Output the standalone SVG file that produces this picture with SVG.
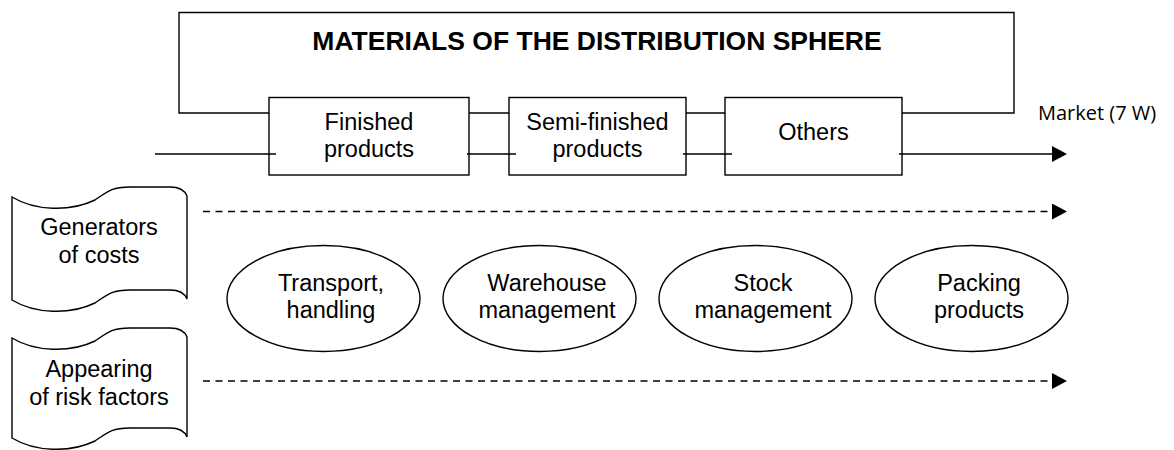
<svg xmlns="http://www.w3.org/2000/svg" width="1174" height="450" viewBox="0 0 1174 450">
<style>
.ln{fill:none;stroke:#000;stroke-width:1.4}
.box{fill:#fff;stroke:#000;stroke-width:1.4}
.dash{fill:none;stroke:#000;stroke-width:1.4;stroke-dasharray:7 5.5}
.t{font-family:"Liberation Sans",Arial,sans-serif;font-size:23.5px;fill:#000;text-anchor:middle}
.title{font-family:"Liberation Sans",Arial,sans-serif;font-size:26.5px;font-weight:bold;fill:#000;text-anchor:middle}
.mk{font-family:"Open Sans","Noto Sans",sans-serif;font-size:20px;fill:#000}
</style>
<defs>
<marker id="arr" viewBox="0 0 15 16" refX="0" refY="8" markerWidth="15" markerHeight="16" markerUnits="userSpaceOnUse" orient="auto">
<path d="M0,0 L15,8 L0,16 z" fill="#000"/>
</marker>
</defs>
<g id="connectors">
<polyline class="ln" points="269,113 179,113 179,12.5 1014,12.5 1014,113 902,113"/>
<line class="ln" x1="469" y1="113" x2="509" y2="113"/>
<line class="ln" x1="686" y1="113" x2="725" y2="113"/>
<line class="ln" x1="155" y1="154" x2="276" y2="154"/>
<line class="ln" x1="467" y1="154" x2="516" y2="154"/>
<line class="ln" x1="683" y1="154" x2="732" y2="154"/>
<line class="ln" x1="899" y1="154" x2="1052" y2="154" marker-end="url(#arr)"/>
<line class="dash" x1="203" y1="211.5" x2="1052" y2="211.5" marker-end="url(#arr)"/>
<line class="dash" x1="203" y1="381" x2="1052" y2="381" marker-end="url(#arr)"/>
</g>
<g id="title">
<text class="title" x="597" y="50">MATERIALS OF THE DISTRIBUTION SPHERE</text>
</g>
<g id="finished">
<rect class="ln" x="269" y="97.5" width="200" height="77.5"/>
<text class="t" x="369" y="130">Finished</text>
<text class="t" x="369" y="156.5">products</text>
</g>
<g id="semi">
<rect class="ln" x="509" y="97.5" width="177" height="77.5"/>
<text class="t" x="597.5" y="129.5">Semi-finished</text>
<text class="t" x="597.5" y="156.5">products</text>
</g>
<g id="others">
<rect class="ln" x="725" y="97.5" width="177" height="77.5"/>
<text class="t" x="813.5" y="140">Others</text>
</g>
<g id="market">
<text class="mk" x="1038" y="120">Market (7 W)</text>
</g>
<g id="generators">
<path class="box" d="M12,197 C35,211 70,212 95,200 C108,191 112,187 130,187 L170,187 C180,187 185,191 187,196 L187,299 C185,294 180,290 170,290 L130,290 C112,290 108,294 95,303 C70,315 35,314 12,300 Z"/>
<text class="t" x="99" y="235">Generators</text>
<text class="t" x="99" y="263">of costs</text>
</g>
<g id="risk">
<path class="box" d="M12,338 C35,352 70,353 95,341 C108,332 112,328 130,328 L170,328 C180,328 185,332 187,337 L187,437 C185,432 180,428 170,428 L130,428 C112,428 108,432 95,441 C70,453 35,452 12,438 Z"/>
<text class="t" x="99" y="377">Appearing</text>
<text class="t" x="99" y="405">of risk factors</text>
</g>
<g id="transport">
<ellipse class="box" cx="323.5" cy="298.5" rx="96.5" ry="53"/>
<text class="t" x="331" y="291">Transport,</text>
<text class="t" x="331" y="318">handling</text>
</g>
<g id="warehouse">
<ellipse class="box" cx="539.5" cy="298.5" rx="96.5" ry="53"/>
<text class="t" x="547" y="290.5">Warehouse</text>
<text class="t" x="547" y="317.5">management</text>
</g>
<g id="stock">
<ellipse class="box" cx="755.5" cy="298.5" rx="96.5" ry="53"/>
<text class="t" x="763" y="290.5">Stock</text>
<text class="t" x="763" y="317.5">management</text>
</g>
<g id="packing">
<ellipse class="box" cx="971.5" cy="298.5" rx="96.5" ry="53"/>
<text class="t" x="979" y="290.5">Packing</text>
<text class="t" x="979" y="317.5">products</text>
</g>
</svg>
